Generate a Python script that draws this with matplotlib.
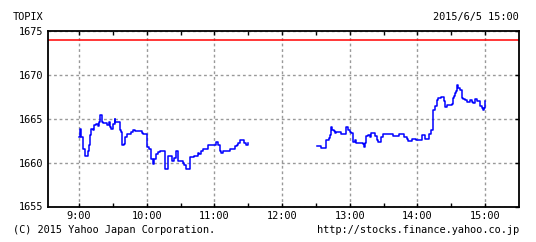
import matplotlib
matplotlib.use("Agg")
import matplotlib.pyplot as plt
import numpy as np

# minutes after 9:00 and index level
am_min = [0, 0.6, 1.5, 3.9, 5.1, 7.5, 8.4, 9.6, 10.5, 12, 12.9, 15, 16.5, 18, 18.9, 20.1, 21,
          24.6, 26.1, 27.6, 28.5, 30, 31.5, 32.1, 36, 37.5, 38.1, 39.9, 41.1, 42.6, 44.1,
          45.9, 48, 49.5, 55.5, 57, 58.5, 60, 62.2, 63.7, 65.2, 66.7, 68.2, 69.7, 72.1,
          76, 79, 82.6, 84.1, 85.6, 87.7, 92.2, 93.1, 94.6, 98.5, 102.1, 105.1, 106.6,
          108.1, 109.6, 114.1, 121.6, 123.1, 124.6, 126.1, 127.6, 133.6, 138.1, 139.6,
          141.1, 142.6, 146.2, 148, 149.5, 150]
am_val = [1662.90, 1663.85, 1662.90, 1661.56, 1660.80, 1661.37, 1661.95, 1663.09, 1663.85,
          1663.74, 1664.24, 1664.35, 1664.12, 1664.62, 1665.38, 1664.62, 1664.50, 1664.24,
          1664.62, 1664.05, 1663.85, 1664.43, 1665.00, 1664.62, 1663.74, 1663.47, 1661.95,
          1662.14, 1662.90, 1663.28, 1663.21, 1663.47, 1663.74, 1663.55, 1663.36, 1663.21,
          1663.28, 1661.76, 1661.56, 1660.42, 1659.85, 1660.42, 1661.00, 1661.18, 1661.37,
          1659.27, 1660.69, 1660.23, 1660.53, 1661.30, 1660.23, 1659.92, 1659.77, 1659.27,
          1660.61, 1660.80, 1661.07, 1660.92, 1661.30, 1661.56, 1661.95, 1662.33, 1661.95,
          1661.37, 1661.07, 1661.30, 1661.56, 1661.83, 1662.02, 1662.21, 1662.60, 1662.21,
          1661.95, 1662.21, 1662.21]

pm_min = [211, 212.8, 214.3, 218.7, 219.3, 221.7, 222.8, 223.7, 224.3, 226.1, 227.3, 228.2,
          232.6, 237, 238.5, 240, 241.5, 242.4, 244.7, 245.9, 251.8, 252.4, 253.3, 254.8,
          256.3, 257.8, 258.6, 262.2, 263.7, 265.1, 268.1, 269.6, 277.9, 283.8, 288.2,
          290.3, 291.8, 294.7, 298.6, 303.6, 306.6, 310.4, 311.6, 313.4, 315.4, 316.9,
          318.4, 320.8, 323.4, 324.3, 325.8, 330.2, 331.1, 332.3, 333.2, 334.1, 334.7,
          336.2, 337.6, 339.1, 340.6, 342.1, 343.6, 346.5, 348, 349.5, 351, 352.4, 355.4,
          356.9, 357.8, 359, 359.8, 360]
pm_val = [1661.87, 1661.83, 1661.68, 1662.06, 1662.52, 1662.79, 1663.09, 1664.05, 1663.66,
          1663.59, 1663.36, 1663.47, 1663.28, 1664.05, 1663.66, 1663.47, 1663.36, 1662.33,
          1662.60, 1662.21, 1662.14, 1661.76, 1662.21, 1662.98, 1663.09, 1662.90, 1663.36,
          1662.98, 1662.52, 1662.33, 1662.90, 1663.21, 1663.05, 1663.21, 1662.90, 1662.71,
          1662.44, 1662.71, 1662.52, 1663.09, 1662.71, 1663.21, 1663.66, 1666.03, 1666.41,
          1667.10, 1667.40, 1667.48, 1667.02, 1666.34, 1666.53, 1666.64, 1667.40, 1667.56,
          1667.86, 1668.17, 1668.82, 1668.44, 1668.24, 1667.40, 1667.18, 1667.10, 1666.91,
          1667.10, 1666.91, 1666.72, 1667.18, 1667.02, 1666.41, 1666.26, 1665.95, 1666.26,
          1667.02, 1667.02]

prev_close = 1673.9
hour_ticks = [0, 60, 120, 180, 240, 300, 360]
hour_labels = ["9:00", "10:00", "11:00", "12:00", "13:00", "14:00", "15:00"]
y_ticks = [1655, 1660, 1665, 1670, 1675]

W, H = 536, 242
fig = plt.figure(figsize=(W / 100, H / 100), dpi=100)
ax = fig.add_axes([47.5 / W, (H - 206.5) / H, (519 - 47.5) / W, 175.8 / H])

ax.plot(am_min, am_val, color="#0000ff", linewidth=1.1, drawstyle="steps-post")
ax.plot(pm_min, pm_val, color="#0000ff", linewidth=1.1, drawstyle="steps-post")
ax.axhline(prev_close, color="#ff0000", linewidth=1.1)

ax.set_xlim(-28, 390)
ax.set_ylim(1655, 1675)
ax.set_xticks(hour_ticks)
ax.set_xticklabels(hour_labels)
ax.set_xticks([t + 30 for t in hour_ticks[:-1]], minor=True)
ax.set_yticks(y_ticks)

font = dict(family="DejaVu Sans Mono", size=7.4)
for lab in ax.get_xticklabels() + ax.get_yticklabels():
    lab.set_fontfamily(font["family"])
    lab.set_fontsize(font["size"])

ax.grid(True, which="major", color="#999999", linestyle=(0, (2, 2)), linewidth=1)
ax.tick_params(axis="x", which="both", direction="in", top=True, bottom=True,
               length=3, width=1, pad=3, colors="black")
ax.tick_params(axis="y", which="both", direction="in", left=False, right=True,
               length=3, width=1, pad=3)
for s in ax.spines.values():
    s.set_linewidth(1.3)
    s.set_color("black")

fig.text(13 / W, 1 - 17 / H, "TOPIX", ha="left", va="center", **font)
fig.text(519 / W, 1 - 17 / H, "2015/6/5 15:00", ha="right", va="center", **font)
fig.text(13 / W, 1 - 230 / H, "(C) 2015 Yahoo Japan Corporation.", ha="left", va="center", **font)
fig.text(519 / W, 1 - 230 / H, "http://stocks.finance.yahoo.co.jp", ha="right", va="center", **font)

fig.savefig("out.png", dpi=100)
